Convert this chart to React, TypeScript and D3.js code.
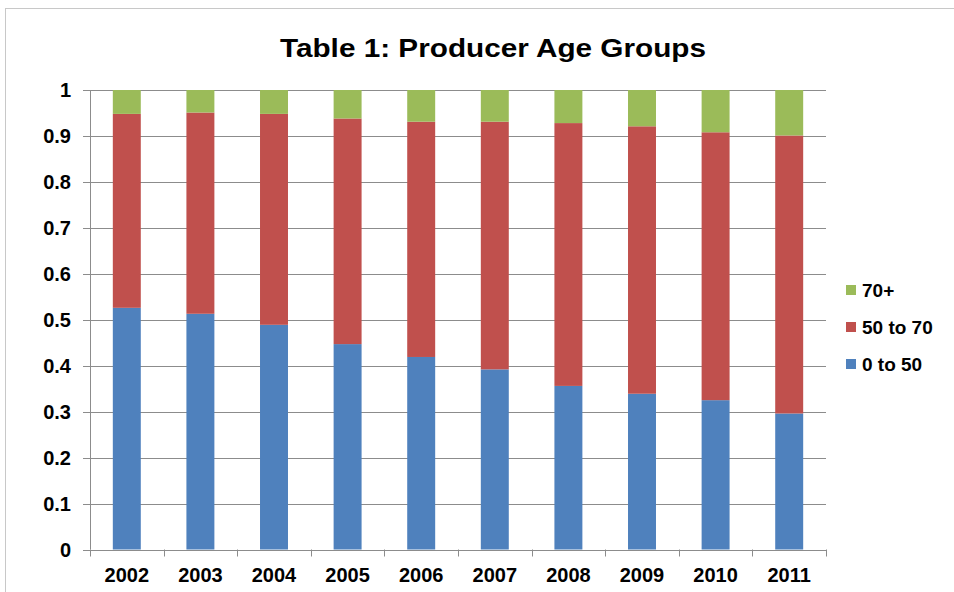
import React, { useEffect, useRef } from "react";
import * as d3 from "d3";

const years = ["2002", "2003", "2004", "2005", "2006", "2007", "2008", "2009", "2010", "2011"];
const under50 = [0.526, 0.513, 0.489, 0.447, 0.419, 0.392, 0.356, 0.339, 0.325, 0.296];
const from50to70 = [0.422, 0.438, 0.459, 0.491, 0.512, 0.539, 0.572, 0.582, 0.583, 0.605];
const over70 = [0.052, 0.049, 0.052, 0.062, 0.069, 0.069, 0.072, 0.079, 0.092, 0.099];
const seriesNames = ["0 to 50", "50 to 70", "70+"];
const seriesColors = ["#4F81BD", "#C0504D", "#9BBB59"];
const yTicks = [0, 0.1, 0.2, 0.3, 0.4, 0.5, 0.6, 0.7, 0.8, 0.9, 1];

const W = 954;
const H = 592;

export default function App() {
  const ref = useRef<SVGSVGElement>(null);

  useEffect(() => {
    const svg = d3.select(ref.current);
    svg.selectAll("*").remove();

    const left = 90, right = 826, top = 90, bottom = 549.5;
    const font = "'Liberation Sans', Arial, sans-serif";

    // chart frame
    svg.append("rect")
      .attr("x", 5.5).attr("y", 8.5)
      .attr("width", W).attr("height", H)
      .attr("fill", "#fff").attr("stroke", "#c8c8c8");

    svg.append("text")
      .attr("x", 280).attr("y", 57)
      .attr("font-family", font).attr("font-weight", "bold")
      .attr("font-size", 26)
      .attr("textLength", 426)
      .attr("lengthAdjust", "spacingAndGlyphs")
      .text("Table 1: Producer Age  Groups");

    const x = d3.scaleBand().domain(years).range([left, right]).paddingInner(0.62).paddingOuter(0.31);
    const y = d3.scaleLinear().domain([0, 1]).range([bottom, top]);

    // gridlines
    svg.append("g").selectAll("line").data(yTicks).enter().append("line")
      .attr("x1", left - 7).attr("x2", right)
      .attr("y1", d => Math.round(y(d)) + 0.5).attr("y2", d => Math.round(y(d)) + 0.5)
      .attr("stroke", "#8c8c8c").attr("stroke-width", 1);

    svg.append("g").selectAll("text").data(yTicks).enter().append("text")
      .attr("x", 71).attr("y", d => y(d) + 7)
      .attr("text-anchor", "end")
      .attr("font-family", font).attr("font-weight", "bold").attr("font-size", 20)
      .text(d => d3.format("~g")(d));

    // stacked bars
    const rows = years.map((yr, i) => ({ year: yr, s0: under50[i], s1: from50to70[i], s2: over70[i] }));
    const stack = d3.stack<any>().keys(["s0", "s1", "s2"]);
    const layers = stack(rows);

    svg.append("g").selectAll("g").data(layers).enter().append("g")
      .attr("fill", (d, i) => seriesColors[i])
      .selectAll("rect").data(d => d).enter().append("rect")
      .attr("x", d => x(d.data.year)!)
      .attr("width", x.bandwidth())
      .attr("y", d => y(d[1]))
      .attr("height", d => y(d[0]) - y(d[1]));

    // axes lines
    svg.append("line")
      .attr("x1", left + 0.5).attr("x2", left + 0.5)
      .attr("y1", top).attr("y2", bottom)
      .attr("stroke", "#8c8c8c");
    svg.append("line")
      .attr("x1", left).attr("x2", right)
      .attr("y1", Math.round(bottom) + 0.5).attr("y2", Math.round(bottom) + 0.5)
      .attr("stroke", "#8c8c8c");

    const bounds = d3.range(years.length + 1).map(i => left + i * (right - left) / years.length);
    svg.append("g").selectAll("line").data(bounds).enter().append("line")
      .attr("x1", d => Math.round(d) + 0.5).attr("x2", d => Math.round(d) + 0.5)
      .attr("y1", bottom).attr("y2", bottom + 7)
      .attr("stroke", "#8c8c8c");

    svg.append("g").selectAll("text").data(years).enter().append("text")
      .attr("x", d => x(d)! + x.bandwidth() / 2)
      .attr("y", 582)
      .attr("text-anchor", "middle")
      .attr("font-family", font).attr("font-weight", "bold").attr("font-size", 20)
      .text(d => d);

    // legend
    const legendItems = [2, 1, 0];
    const lg = svg.append("g");
    legendItems.forEach((si, k) => {
      const ly = 290 + k * 37;
      lg.append("rect")
        .attr("x", 846).attr("y", ly - 5).attr("width", 10).attr("height", 10)
        .attr("fill", seriesColors[si]);
      lg.append("text")
        .attr("x", 862).attr("y", ly + 7)
        .attr("font-family", font).attr("font-weight", "bold").attr("font-size", 19)
        .text(seriesNames[si]);
    });
  }, []);

  return (
    <svg
      ref={ref}
      width={W}
      height={H}
      style={{ position: "absolute", left: 0, top: 0, display: "block" }}
    />
  );
}
